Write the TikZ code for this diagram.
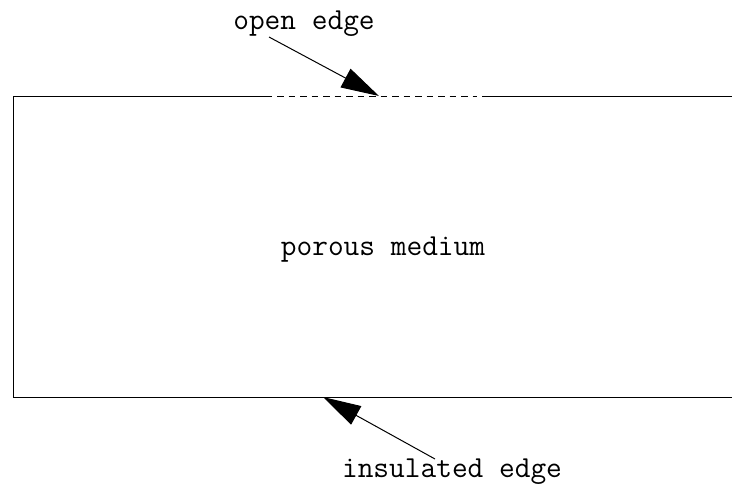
\documentclass[tikz,border=0pt]{standalone}
\usetikzlibrary{arrows.meta}
\begin{document}
\begin{tikzpicture}[x=1pt,y=-1pt,
  lbl/.style={font=\ttfamily\fontsize{30.5}{34}\selectfont, anchor=base, inner sep=0pt},
  edge/.style={line width=1pt},
  ptr/.style={line width=1pt, -{Triangle[length=38pt,width=21pt]}}]
\useasboundingbox (0,0) rectangle (732,483);
\coordinate (tl) at (13,96);
\coordinate (bl) at (13,397);
\coordinate (tr) at (732,96);
\coordinate (br) at (732,397);
\coordinate (s1) at (272,96);
\coordinate (d1) at (277,96);
\coordinate (d2) at (477,96);
\coordinate (s2) at (482,96);
\coordinate (otip) at (379,96);
\coordinate (itip) at (323,397);
\draw[edge] (tr) -- (s2);
\draw[edge, dash pattern=on 6.5pt off 5pt] (d1) -- (d2);
\draw[edge] (s1) -- (tl) -- (bl) -- (br);
\node[lbl] (open) at (304,29) {open edge};
\node[lbl] (ins) at (452,477) {insulated edge};
\node[lbl] (pm) at (383,255) {porous medium};
\coordinate (os) at (269,37);
\coordinate (is) at (435,459);
\draw[ptr] (os) -- (otip);
\draw[ptr] (is) -- (itip);
\end{tikzpicture}
\end{document}
